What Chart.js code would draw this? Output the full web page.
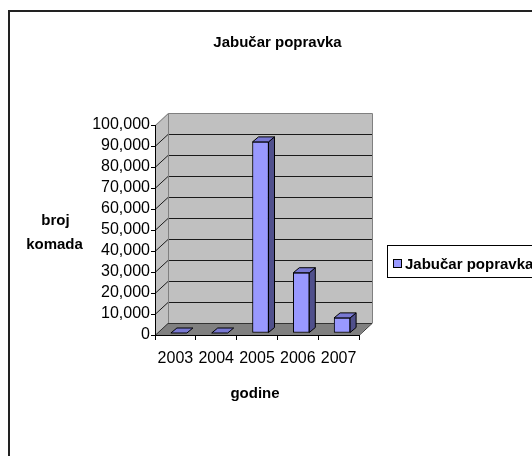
<!DOCTYPE html>
<html>
<head>
<meta charset="utf-8">
<script src="https://cdn.jsdelivr.net/npm/chart.js@4/dist/chart.umd.min.js"></script>
<style>
  html, body { margin: 0; padding: 0; background: #ffffff; }
  #c { display: block; }
</style>
</head>
<body>
<canvas id="c" width="532" height="456"></canvas>
<script>
// ---- data ----
const chartTitle = 'Jabučar popravka';
const seriesName = 'Jabučar popravka';
const years = ['2003', '2004', '2005', '2006', '2007'];
const values = [0, 0, 91000, 28700, 7200];
const yMin = 0;
const yMax = 100000;
const yStep = 10000;
const yTitleLines = ['broj', 'komada'];
const xTitle = 'godine';

// ---- style ----
const FONT = '"Liberation Sans", Arial, sans-serif';
const DEPTH = { x: 13, y: -12 };      // wall depth
const BAR_DEPTH = { x: 6, y: -5 };    // bar depth
const BAR_SHIFT = { x: 3.5, y: -2 };  // bar position inside depth
const FRONT = '#9999FF', TOP = '#7878D2', SIDE = '#50508C';

function poly(ctx, pts, fill, stroke, lw) {
  ctx.beginPath();
  ctx.moveTo(pts[0][0], pts[0][1]);
  for (let i = 1; i < pts.length; i++) ctx.lineTo(pts[i][0], pts[i][1]);
  ctx.closePath();
  if (fill) { ctx.fillStyle = fill; ctx.fill(); }
  if (stroke) { ctx.strokeStyle = stroke; ctx.lineWidth = lw || 1; ctx.stroke(); }
}

const walls = {
  id: 'walls',
  beforeDraw(chart) {
    const ctx = chart.ctx;
    const a = chart.chartArea;
    const ys = chart.scales.y;
    const L = a.left, R = a.right, T = a.top, B = a.bottom;
    const dx = DEPTH.x, dy = DEPTH.y;
    ctx.save();
    ctx.fillStyle = '#ffffff';
    ctx.fillRect(0, 0, chart.width, chart.height);
    // outer chart border
    ctx.strokeStyle = '#222';
    ctx.lineWidth = 2;
    ctx.strokeRect(9, 11, 600, 500);
    // side wall
    poly(ctx, [[L, T], [L + dx, T + dy], [L + dx, B + dy], [L, B]], '#C0C0C0');
    // back wall
    poly(ctx, [[L + dx, T + dy], [R + dx, T + dy], [R + dx, B + dy], [L + dx, B + dy]], '#C0C0C0');
    // floor
    poly(ctx, [[L, B], [R, B], [R + dx, B + dy], [L + dx, B + dy]], '#808080');
    // gridlines
    ctx.strokeStyle = '#1a1a1a';
    ctx.lineWidth = 1;
    for (let v = yMin + yStep; v < yMax; v += yStep) {
      const y = Math.round(ys.getPixelForValue(v)) + 0.5;
      ctx.beginPath();
      ctx.moveTo(L, y);
      ctx.lineTo(L + dx, y + dy);
      ctx.lineTo(R + dx, y + dy);
      ctx.stroke();
    }
    // wall outlines
    ctx.strokeStyle = '#808080';
    ctx.beginPath();
    ctx.moveTo(L + 0.5, T + 0.5);
    ctx.lineTo(L + dx + 0.5, T + dy + 0.5);
    ctx.lineTo(R + dx + 0.5, T + dy + 0.5);
    ctx.lineTo(R + dx + 0.5, B + dy + 0.5);
    ctx.stroke();
    ctx.beginPath();
    ctx.moveTo(L + dx + 0.5, T + dy + 0.5);
    ctx.lineTo(L + dx + 0.5, B + dy + 0.5);
    ctx.stroke();
    // floor outline
    ctx.strokeStyle = '#333';
    ctx.beginPath();
    ctx.moveTo(L, B + 0.5);
    ctx.lineTo(L + dx, B + dy + 0.5);
    ctx.lineTo(R + dx, B + dy + 0.5);
    ctx.lineTo(R, B + 0.5);
    ctx.stroke();
    ctx.restore();
  },
  beforeDatasetsDraw(chart) {
    chart.ctx.save();
    chart.ctx.translate(BAR_SHIFT.x, BAR_SHIFT.y);
  },
  afterDatasetsDraw(chart) {
    const ctx = chart.ctx;
    const meta = chart.getDatasetMeta(0);
    meta.data.forEach((bar) => {
      const p = bar.getProps(['x', 'y', 'base', 'width'], true);
      const l = p.x - p.width / 2, r = p.x + p.width / 2;
      const t = p.y, b = p.base;
      const bx = BAR_DEPTH.x, by = BAR_DEPTH.y;
      // side
      if (b - t > 0.5) {
        poly(ctx, [[r, t], [r + bx, t + by], [r + bx, b + by], [r, b]], SIDE, '#000', 1);
      }
      // top
      poly(ctx, [[l, t], [r, t], [r + bx, t + by], [l + bx, t + by]], TOP, '#000', 1);
    });
    ctx.restore();
  },
  afterDraw(chart) {
    const ctx = chart.ctx;
    ctx.save();
    ctx.fillStyle = '#000';
    ctx.textAlign = 'center';
    ctx.textBaseline = 'alphabetic';
    ctx.font = 'bold 15px ' + FONT;
    ctx.fillText(chartTitle, 277.5, 46.5);
    ctx.fillText(yTitleLines[0], 55.5, 224.5);
    ctx.fillText(yTitleLines[1], 54.5, 249);
    ctx.fillText(xTitle, 255, 398);
    // legend
    ctx.fillStyle = '#ffffff';
    ctx.fillRect(387, 245, 200, 33);
    ctx.strokeStyle = '#000';
    ctx.lineWidth = 1;
    ctx.strokeRect(387.5, 245.5, 200, 32);
    ctx.fillStyle = FRONT;
    ctx.fillRect(393.5, 259.5, 8, 8);
    ctx.strokeRect(393.5, 259.5, 8, 8);
    ctx.fillStyle = '#000';
    ctx.textAlign = 'left';
    ctx.fillText(chart.data.datasets[0].label, 405, 269);
    ctx.restore();
  }
};

new Chart(document.getElementById('c'), {
  type: 'bar',
  data: {
    labels: years,
    datasets: [{
      label: seriesName,
      data: values,
      backgroundColor: FRONT,
      borderColor: '#000',
      borderWidth: 1,
      borderSkipped: false,
      barThickness: 16
    }]
  },
  options: {
    responsive: false,
    animation: false,
    devicePixelRatio: 1,
    layout: { padding: { left: 0, top: 125, right: 173, bottom: 81 } },
    plugins: {
      legend: { display: false },
      title: { display: false },
      tooltip: { enabled: false }
    },
    scales: {
      x: {
        grid: { display: true, drawOnChartArea: false, drawTicks: true, tickLength: 5, color: '#000', offset: true },
        border: { display: true, color: '#000', width: 1 },
        ticks: { color: '#000', font: { family: FONT, size: 16 }, padding: 9, maxRotation: 0, autoSkip: false },
        afterFit(scale) { scale.height = 40; }
      },
      y: {
        min: yMin,
        max: yMax,
        grid: { display: true, drawOnChartArea: false, drawTicks: true, tickLength: 4, color: '#000' },
        border: { display: true, color: '#000', width: 1 },
        ticks: {
          stepSize: yStep,
          autoSkip: false,
          color: '#000',
          font: { family: FONT, size: 16 },
          padding: 1,
          callback: (v) => Number(v).toLocaleString('en-US')
        },
        afterFit(scale) { scale.width = 155; }
      }
    }
  },
  plugins: [walls]
});
</script>
</body>
</html>
